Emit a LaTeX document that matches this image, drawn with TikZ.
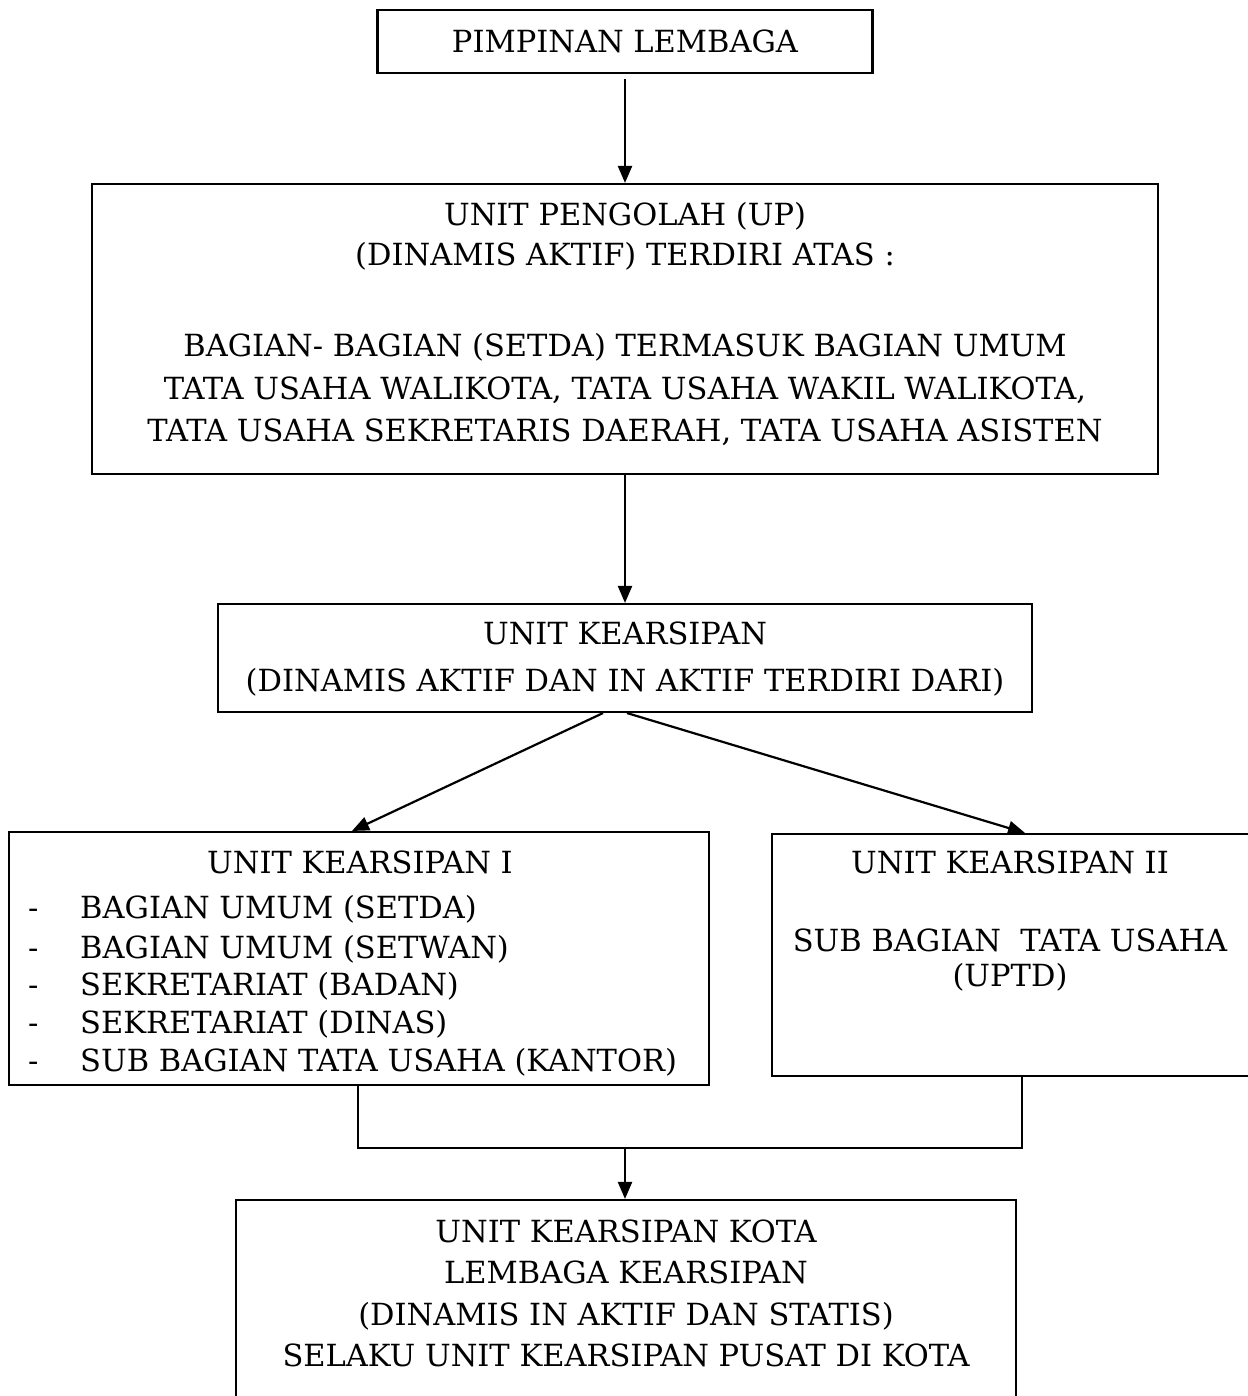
\documentclass[tikz,border=0pt]{standalone}
\usepackage{fontspec}
\setmainfont{DejaVu Serif}
\usetikzlibrary{arrows.meta}
\begin{document}
\begin{tikzpicture}[x=1pt,y=-1pt,
  box/.style={draw, line width=2.1pt, inner sep=0pt},
  txt/.style={inner sep=0pt, anchor=base, font=\fontsize{30.5}{34}\selectfont},
  ltxt/.style={txt, anchor=base west},
  conn/.style={line width=2.2pt},
  arr/.style={conn, -{Triangle[length=17pt,width=14pt]}}]
\useasboundingbox (0,0) rectangle (1247,1396);
% boxes
\node[box, minimum width=495pt, minimum height=63pt] (b1) at (625,41.5) {};
\node[box, minimum width=1066pt, minimum height=290pt] (b2) at (625,329) {};
\node[box, minimum width=814pt, minimum height=108pt] (b3) at (625,658) {};
\node[box, minimum width=700pt, minimum height=253pt] (b4) at (359,958.5) {};
\node[box, minimum width=490pt, minimum height=242pt] (b5) at (1017,955) {};
\node[box, minimum width=780pt, minimum height=220pt] (b6) at (626,1310) {};
% texts
\node[txt] (t1) at (625,53) {PIMPINAN LEMBAGA};
\node[txt] (t2a) at (625,226) {UNIT PENGOLAH (UP)};
\node[txt] (t2b) at (625,266) {(DINAMIS AKTIF) TERDIRI ATAS :};
\node[txt] (t2c) at (625,356) {BAGIAN- BAGIAN (SETDA) TERMASUK BAGIAN UMUM};
\node[txt] (t2d) at (625,399) {TATA USAHA WALIKOTA, TATA USAHA WAKIL WALIKOTA,};
\node[txt] (t2e) at (625,441) {TATA USAHA SEKRETARIS DAERAH, TATA USAHA ASISTEN};
\node[txt] (t3a) at (625,644) {UNIT KEARSIPAN};
\node[txt] (t3b) at (625,691) {(DINAMIS AKTIF DAN IN AKTIF TERDIRI DARI)};
\node[txt] (t4) at (360,873) {UNIT KEARSIPAN I};
\foreach \yy/\tt [count=\i] in {918/BAGIAN UMUM (SETDA), 958/BAGIAN UMUM (SETWAN), 995/SEKRETARIAT (BADAN), 1033/SEKRETARIAT (DINAS), 1071/SUB BAGIAN TATA USAHA (KANTOR)}{
  \node[ltxt] (d\i) at (28,\yy) {-};
  \node[ltxt] (l\i) at (80,\yy) {\tt};
}
\node[txt] (t5a) at (1010,873) {UNIT KEARSIPAN II};
\node[txt] (t5b) at (1010,951) {SUB BAGIAN\ \ TATA USAHA};
\node[txt] (t5c) at (1010,986) {(UPTD)};
\node[txt] (t6a) at (626,1242) {UNIT KEARSIPAN KOTA};
\node[txt] (t6b) at (626,1283) {LEMBAGA KEARSIPAN};
\node[txt] (t6c) at (626,1325) {(DINAMIS IN AKTIF DAN STATIS)};
\node[txt] (t6d) at (626,1366) {SELAKU UNIT KEARSIPAN PUSAT DI KOTA};
% connectors
\draw[arr] ([yshift=-5pt]b1.south) -- (b2.north);
\draw[arr] (b2.south) -- (b3.north);
\draw[arr] ([xshift=-22pt]b3.south) -- ([xshift=-7pt]b4.north);
\draw[arr] ([xshift=2pt]b3.south) -- ([xshift=8pt]b5.north);
\coordinate (jl) at (358,1148);
\coordinate (jr) at (1022,1148);
\coordinate (jm) at (625,1148);
\draw[conn] ([xshift=-1pt]b4.south) -- (jl) -- (jr) -- ([xshift=5pt]b5.south);
\draw[arr] (jm) -- ([xshift=-1pt]b6.north);
\end{tikzpicture}
\end{document}
